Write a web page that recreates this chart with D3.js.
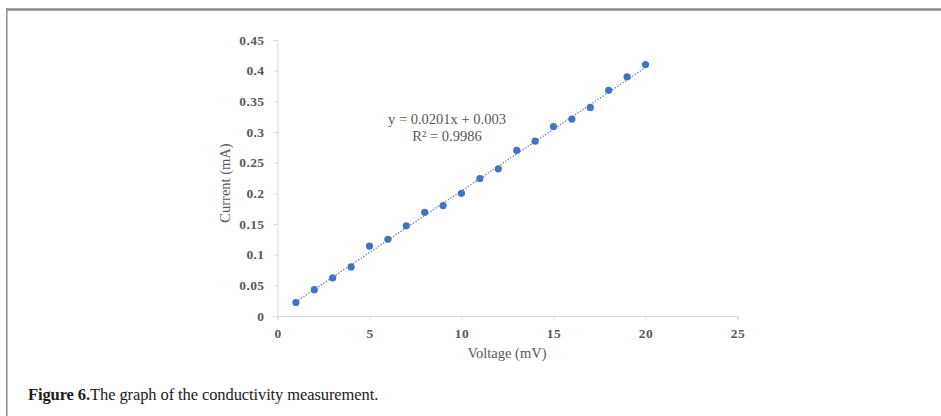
<!DOCTYPE html>
<html>
<head>
<meta charset="utf-8">
<script src="https://cdn.jsdelivr.net/npm/d3@7"></script>
<style>
  body { margin: 0; background: #fff; }
  svg { display: block; }
</style>
</head>
<body>
<div id="chart"></div>
<script>
// Datos
const voltage = [1, 2, 3, 4, 5, 6, 7, 8, 9, 10, 11, 12, 13, 14, 15, 16, 17, 18, 19, 20];
const current = [0.022, 0.043, 0.062, 0.080, 0.114, 0.125, 0.147, 0.169, 0.180, 0.200,
                 0.224, 0.240, 0.270, 0.285, 0.309, 0.321, 0.340, 0.368, 0.390, 0.410];
const xTicks = [0, 5, 10, 15, 20, 25];
const yTicks = [0, 0.05, 0.1, 0.15, 0.2, 0.25, 0.3, 0.35, 0.4, 0.45];
const slope = 0.0201, intercept = 0.003;
const equation = ["y = 0.0201x + 0.003", "R² = 0.9986"];

const W = 941, H = 416;
const svg = d3.select("#chart").append("svg")
    .attr("width", W).attr("height", H);

// Marco de la figura
svg.append("line").attr("x1", 6).attr("x2", W).attr("y1", 9.5).attr("y2", 9.5)
    .attr("stroke", "#8a8a8a").attr("stroke-width", 2.5);
svg.append("line").attr("x1", 6.8).attr("x2", 6.8).attr("y1", 8.5).attr("y2", H)
    .attr("stroke", "#8a8a8a").attr("stroke-width", 1.5);

// Escalas
const x = d3.scaleLinear().domain([0, 25]).range([277.5, 737.5]);
const y = d3.scaleLinear().domain([0, 0.45]).range([316, 40]);

const grey = "#595959";
const serif = "'Liberation Serif', 'Times New Roman', serif";

// Ejes
const gx = svg.append("g")
    .attr("transform", `translate(0,${y(0)})`)
    .call(d3.axisBottom(x).tickValues(xTicks).tickSize(4).tickPadding(8)
        .tickFormat(d3.format("d")));
const gy = svg.append("g")
    .attr("transform", `translate(${x(0)},0)`)
    .call(d3.axisLeft(y).tickValues(yTicks).tickSize(4).tickPadding(9)
        .tickFormat(d => d === 0 ? "0" : String(+d.toFixed(2))));

[gx, gy].forEach(g => {
    g.select(".domain").attr("stroke", "#d9d9d9");
    g.selectAll(".tick line").attr("stroke", "#d9d9d9");
    g.selectAll("text")
        .attr("fill", grey)
        .style("font-family", serif)
        .style("font-size", "13.5px")
        .style("font-weight", "bold")
        .style("letter-spacing", "0.4px");
});

// Linea de tendencia
const x0 = d3.min(voltage), x1 = d3.max(voltage);
svg.append("line")
    .attr("x1", x(x0)).attr("y1", y(slope * x0 + intercept))
    .attr("x2", x(x1)).attr("y2", y(slope * x1 + intercept))
    .attr("stroke", "#5b7bb5")
    .attr("stroke-width", 1.3)
    .attr("stroke-dasharray", "1.3,1.7");

// Puntos
svg.selectAll("circle.pt")
    .data(voltage.map((v, i) => ({ v: v, c: current[i] })))
    .enter()
    .append("circle")
    .attr("class", "pt")
    .attr("cx", d => x(d.v))
    .attr("cy", d => y(d.c))
    .attr("r", 3.6)
    .attr("fill", "#4472c4");

// Ecuacion
svg.append("text")
    .attr("x", 447).attr("y", 124)
    .style("text-anchor", "middle")
    .style("font-family", serif).style("font-size", "14.5px")
    .attr("fill", grey)
    .text(equation[0]);
svg.append("text")
    .attr("x", 447).attr("y", 141)
    .style("text-anchor", "middle")
    .style("font-family", serif).style("font-size", "14.5px")
    .attr("fill", grey)
    .text(equation[1]);

// Titulos de ejes
svg.append("text")
    .attr("x", 507).attr("y", 358)
    .style("text-anchor", "middle")
    .style("font-family", serif).style("font-size", "14.5px")
    .attr("fill", grey)
    .text("Voltage (mV)");
svg.append("text")
    .attr("transform", "rotate(-90)")
    .attr("x", -183).attr("y", 230)
    .style("text-anchor", "middle")
    .style("font-family", serif).style("font-size", "14.5px")
    .attr("fill", grey)
    .text("Current  (mA)");

// Pie de figura
const cap = svg.append("text")
    .attr("x", 28).attr("y", 400)
    .style("font-family", serif).style("font-size", "16.5px")
    .style("letter-spacing", "-0.1px")
    .attr("fill", "#1a1a1a");
cap.append("tspan").style("font-weight", "bold").text("Figure 6.");
cap.append("tspan").text("The graph of the conductivity measurement.");
</script>
</body>
</html>
